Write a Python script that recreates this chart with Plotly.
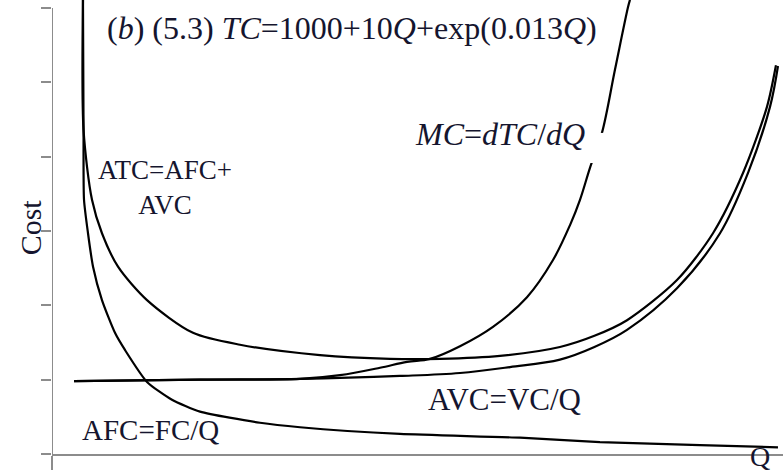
import plotly.graph_objects as go

# values (arbitrary units: Q along x, cost along y)
afc_q = [32.6, 33.2, 33.7, 37.9, 43.2, 52.6, 66.3, 76.8, 100.0, 126.3, 155.8,
         218.9, 261.1, 366.3, 492.6, 576.8, 682.1, 764.2]
afc_c = [61.1, 43.6, 34.2, 29.7, 25.2, 20.7, 16.3, 14.0, 9.7, 7.3, 5.7,
         4.2, 3.6, 2.7, 2.2, 1.6, 1.2, 0.9]

atc_q = [32.6, 33.2, 42.1, 52.6, 69.5, 100.0, 148.4, 197.9, 282.1, 355.8, 408.4,
         471.6, 534.7, 571.0, 605.3, 657.9, 695.8, 727.4, 752.6, 762.1]
atc_c = [61.1, 43.6, 34.2, 29.7, 25.2, 20.7, 16.3, 14.7, 13.3, 12.8, 12.8,
         13.2, 14.4, 15.9, 18.0, 23.4, 29.7, 37.8, 46.7, 52.3]

avc_q = [23.2, 155.8, 261.1, 366.3, 429.5, 482.1, 534.7, 571.0, 605.3, 657.9,
         703.2, 732.6, 755.8, 764.2]
avc_c = [9.8, 10.0, 10.1, 10.5, 10.9, 11.7, 12.7, 14.4, 16.7, 22.3,
         29.7, 37.8, 46.7, 52.2]

mc_q = [23.2, 155.8, 261.1, 303.2, 345.3, 373.7, 397.9, 429.5, 464.2, 500.0,
        527.4, 545.3, 555.8, 566.3, 578.9, 592.6, 606.3, 608.4]
mc_c = [9.8, 10.0, 10.1, 10.6, 11.6, 12.4, 12.8, 14.5, 17.1, 21.1,
        26.1, 30.8, 34.2, 38.5, 43.2, 51.7, 60.1, 61.1]

y_ticks = [0, 10, 20, 30, 40, 50, 60]

TEXT = "#15152e"
AXIS = "#8c8c8c"
FONT = "Liberation Serif"


def font(size):
    return dict(family=FONT, size=size, color=TEXT)


fig = go.Figure()
for q, c, name, smooth in [(afc_q, afc_c, "AFC", 0.6), (atc_q, atc_c, "ATC", 0.8),
                           (avc_q, avc_c, "AVC", 1.0), (mc_q, mc_c, "MC", 1.0)]:
    fig.add_trace(go.Scatter(
        x=q, y=c, name=name, mode="lines",
        line=dict(color="black", width=2.2, shape="spline", smoothing=smooth),
        hoverinfo="skip",
    ))

# y axis line stops at the top tick, as in the reference
fig.add_shape(type="line", xref="x", yref="y", x0=0, x1=0, y0=0, y1=60,
              line=dict(color=AXIS, width=2))
# white mask where the MC label interrupts the curve
fig.add_shape(type="rect", xref="x", yref="y", x0=562, x1=585.3,
              y0=39.15, y1=43.2, fillcolor="white", line=dict(width=0),
              layer="above")

fig.add_annotation(x=55.8, y=57.3, xanchor="left", yanchor="middle",
                   text="(<i>b</i>) (5.3) <i>TC</i>=1000+10<i>Q</i>+exp(0.013<i>Q</i>)",
                   showarrow=False, font=font(32))
fig.add_annotation(x=563.2, y=43.05, xanchor="right", yanchor="middle",
                   text="<i>MC</i>=<i>dTC</i>/<i>dQ</i>", showarrow=False,
                   font=font(32))
fig.add_annotation(x=118.9, y=35.8, text="ATC=AFC+<br>AVC", align="center",
                   showarrow=False, font=font(27))
fig.add_annotation(x=104.2, y=3.2, text="AFC=FC/Q", showarrow=False,
                   font=font(29))
fig.add_annotation(x=476.8, y=7.4, text="AVC=VC/Q", showarrow=False,
                   font=font(31))
fig.add_annotation(x=745.3, yref="paper", y=-0.0415, xanchor="center",
                   yanchor="bottom", text="Q", showarrow=False,
                   borderpad=0, font=font(28))
fig.add_annotation(xref="paper", x=-0.03, y=30.5, xanchor="center",
                   yanchor="middle", text="Cost", textangle=-90,
                   showarrow=False, font=font(30))

fig.update_layout(
    width=784, height=473,
    margin=dict(l=52, r=1, t=0, b=19, autoexpand=False),
    plot_bgcolor="white", paper_bgcolor="white",
    showlegend=False,
)
fig.update_xaxes(range=[0, 769.5], showgrid=False, zeroline=False,
                 showline=True, linecolor=AXIS, linewidth=2,
                 ticks="outside", tickvals=[0], ticklen=14, tickwidth=2,
                 tickcolor=AXIS, showticklabels=False)
fig.update_yaxes(range=[0, 61.08], showgrid=False, zeroline=False,
                 showline=False, ticks="outside", tickvals=y_ticks,
                 ticklen=10, tickwidth=2, tickcolor=AXIS,
                 showticklabels=False)

fig.write_html("out.html", config={"displayModeBar": False},
               post_script="document.body.style.margin='0';")
